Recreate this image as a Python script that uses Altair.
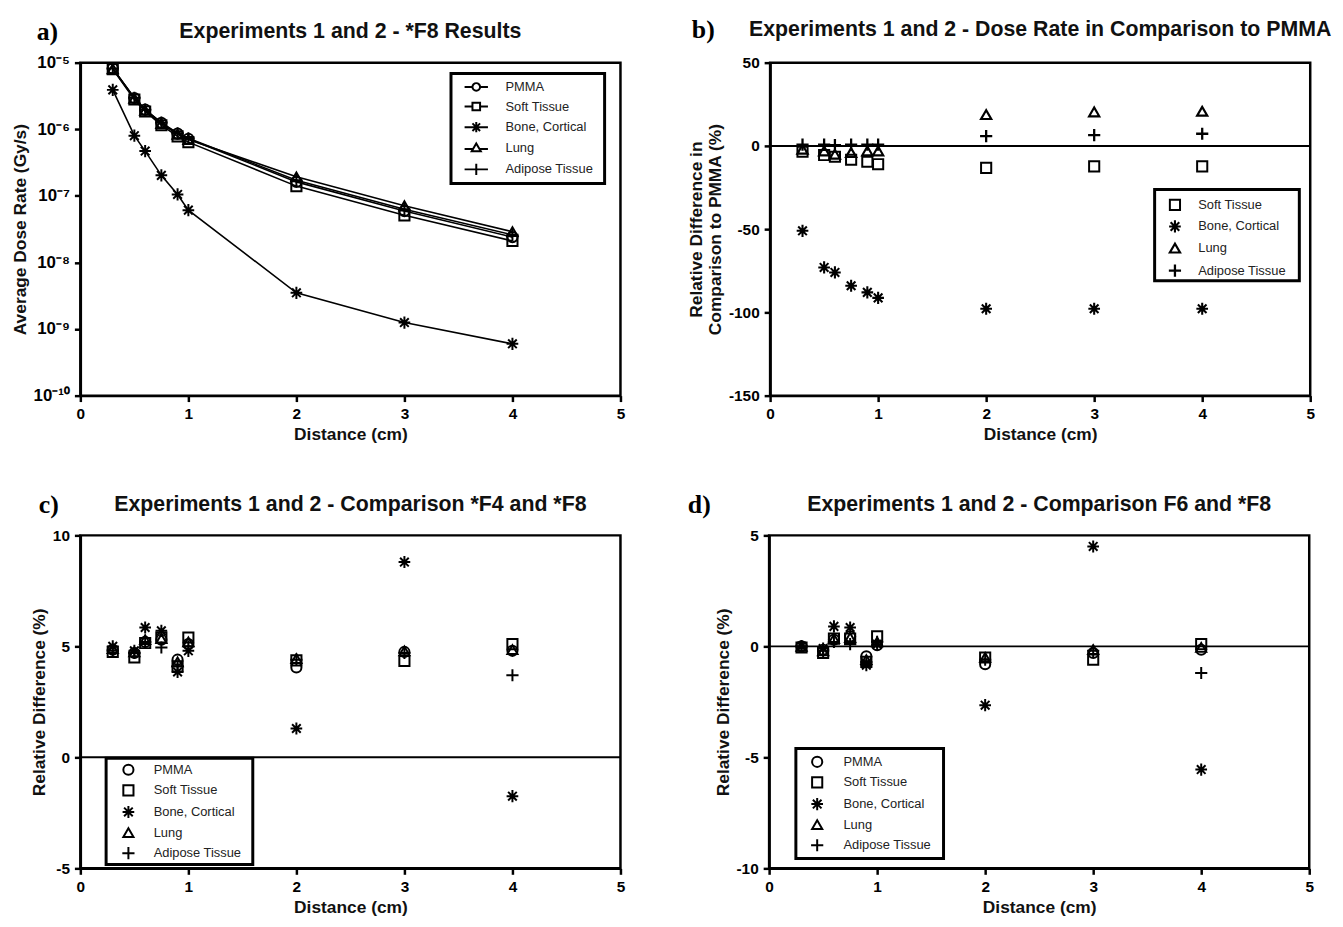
import altair as alt
import pandas as pd

# ---------------- data ----------------
distance = [0.3, 0.5, 0.6, 0.75, 0.9, 1.0, 2.0, 3.0, 4.0]
materials = ["PMMA", "Soft Tissue", "Bone, Cortical", "Lung", "Adipose Tissue"]

# a) *F8 average dose rate (Gy/s)
a_pmma = [8.2e-6, 2.95e-6, 1.97e-6, 1.25e-6, 8.6e-7, 7.2e-7, 1.62e-7, 5.9e-8, 2.4e-8]
a_soft = [8.0e-6, 2.8e-6, 1.85e-6, 1.15e-6, 7.8e-7, 6.4e-7, 1.40e-7, 5.1e-8, 2.1e-8]
a_bone = [3.9e-6, 8.0e-7, 4.7e-7, 2.03e-7, 1.05e-7, 6.1e-8, 3.5e-9, 1.25e-9, 6.0e-10]
a_lung = [8.1e-6, 2.9e-6, 1.92e-6, 1.22e-6, 8.4e-7, 7.0e-7, 1.93e-7, 7.1e-8, 2.9e-8]
a_adip = [8.2e-6, 2.96e-6, 1.97e-6, 1.26e-6, 8.7e-7, 7.3e-7, 1.72e-7, 6.3e-8, 2.6e-8]

# b) relative difference to PMMA (%)
b_soft = [-3.5, -5.5, -6.5, -8.3, -9.5, -11.0, -13.2, -12.3, -12.3]
b_bone = [-51, -73, -76, -84, -88, -91.3, -97.8, -97.8, -97.8]
b_lung = [-2, -3, -5, -4, -3, -3, 18.8, 20.4, 20.8]
b_adip = [0.8, 0.8, 0.5, 0.8, 0.8, 0.8, 5.9, 6.5, 7.3]

# c) comparison *F4 and *F8 (%)
c_pmma = [4.85, 4.7, 5.2, 5.3, 4.4, 5.1, 4.05, 4.75, 4.8]
c_soft = [4.75, 4.5, 5.15, 5.4, 4.1, 5.4, 4.37, 4.34, 5.1]
c_bone = [5.0, 4.8, 5.85, 5.7, 3.85, 4.8, 1.3, 8.8, -1.75]
c_lung = [4.9, 4.75, 5.3, 5.35, 4.3, 5.2, 4.45, 4.8, 4.85]
c_adip = [4.8, 4.7, 5.2, 4.95, 4.1, 5.0, 4.4, 4.7, 3.7]

# d) comparison F6 and *F8 (%)
d_pmma = [0.0, -0.15, 0.3, 0.45, -0.45, 0.05, -0.8, -0.3, -0.15]
d_soft = [-0.05, -0.3, 0.35, 0.35, -0.7, 0.45, -0.5, -0.6, 0.1]
d_bone = [0.0, -0.1, 0.9, 0.85, -0.85, 0.1, -2.65, 4.5, -5.55]
d_lung = [0.0, -0.2, 0.35, 0.4, -0.6, 0.2, -0.5, -0.15, -0.05]
d_adip = [0.0, -0.2, 0.2, 0.1, -0.7, 0.2, -0.6, -0.2, -1.2]

a_exponents = [-10, -9, -8, -7, -6, -5]
a_tick_labels = ["10⁻¹⁰", "10⁻⁹", "10⁻⁸", "10⁻⁷", "10⁻⁶", "10⁻⁵"]
x_ticks = [0, 1, 2, 3, 4, 5]


def long_df(series):
    rows = []
    for name, vals in series:
        for xv, yv in zip(distance, vals):
            rows.append({"Distance": xv, "Value": yv, "Material": name})
    return pd.DataFrame(rows)


df_a = long_df(zip(materials, [a_pmma, a_soft, a_bone, a_lung, a_adip]))
df_b = long_df(zip(materials[1:], [b_soft, b_bone, b_lung, b_adip]))
df_c = long_df(zip(materials, [c_pmma, c_soft, c_bone, c_lung, c_adip]))
df_d = long_df(zip(materials, [d_pmma, d_soft, d_bone, d_lung, d_adip]))
one = pd.DataFrame({"k": [0]})

# ---------------- styling ----------------
ASTERISK = "M0,-1.2L0,1.2M-1.15,0L1.15,0M-0.85,-0.85L0.85,0.85M-0.85,0.85L0.85,-0.85"
PLUS = "M0,-1.2L0,1.2M-1.2,0L1.2,0"
shape_map = {"PMMA": "circle", "Soft Tissue": "square", "Bone, Cortical": ASTERISK,
             "Lung": "triangle-up", "Adipose Tissue": PLUS}
width_map = {"PMMA": 2, "Soft Tissue": 2, "Bone, Cortical": 2.3,
             "Lung": 2, "Adipose Tissue": 3}
# legend symbols of panel a (marker with a line through it)
line_shape_map = {
    "PMMA": "M-0.75,0A0.75,0.75 0 1,1 0.75,0A0.75,0.75 0 1,1 -0.75,0M-2.3,0L-0.75,0M0.75,0L2.3,0",
    "Soft Tissue": "M-0.75,-0.75L0.75,-0.75L0.75,0.75L-0.75,0.75ZM-2.3,0L-0.75,0M0.75,0L2.3,0",
    "Bone, Cortical": "M-2.3,0L2.3,0M0,-1L0,1M-0.75,-0.75L0.75,0.75M-0.75,0.75L0.75,-0.75",
    "Lung": "M0,-0.85L0.9,0.7L-0.9,0.7ZM-2.3,0.25L-0.75,0.25M0.75,0.25L2.3,0.25",
    "Adipose Tissue": "M-2.3,0L2.3,0M0,-1.1L0,1.1",
}

W, H = 545, 336
FONT = "Liberation Sans"
MINUS_FIX = "replace(datum.label, '\u2212', '-')"

x_enc = alt.X("Distance:Q", title="Distance (cm)",
              scale=alt.Scale(domain=[0, 5], nice=False, zero=False),
              axis=alt.Axis(values=x_ticks, format="d", labelFlush=False))


def legend(box, pad, symoff, laboff, rowpad):
    return alt.Legend(title=None, orient="none", legendX=box[0], legendY=box[1],
                      padding=pad, rowPadding=rowpad,
                      labelFont=FONT, labelFontSize=13, labelColor="#222",
                      symbolSize=105, symbolStrokeWidth=2, symbolStrokeColor="black",
                      symbolOpacity=1, labelOffset=laboff, symbolOffset=symoff)


def points(mats, y_enc, lg):
    shapes = [shape_map[m] for m in mats]
    widths = [width_map[m] for m in mats]
    return alt.Chart().mark_point(filled=False, color="black", size=105, opacity=1).encode(
        x=x_enc,
        y=y_enc,
        shape=alt.Shape("Material:N", scale=alt.Scale(domain=mats, range=shapes), legend=lg),
        strokeWidth=alt.StrokeWidth("Material:N", scale=alt.Scale(domain=mats, range=widths),
                                    legend=None),
    )


def legend_box(box):
    return alt.Chart(one).mark_rect(fillOpacity=0, stroke="black", strokeWidth=3).encode(
        x=alt.value(box[0]), x2=alt.value(box[2]), y=alt.value(box[1]), y2=alt.value(box[3]))


def letter(txt, dx, dy):
    return alt.Chart(one).mark_text(font="Liberation Serif", fontSize=26, fontWeight="bold",
                                    align="left", baseline="middle", color="black").encode(
        x=alt.value(dx), y=alt.value(dy), text=alt.value(txt))


def zero_rule():
    return alt.Chart(one).mark_rule(color="black", strokeWidth=2).encode(y=alt.datum(0))


def title(t):
    return alt.TitleParams(t, font=FONT, fontSize=21.5, fontWeight="bold", color="#111",
                           offset=-24)


# panel a
label_expr = "[" + ",".join("'%s'" % s for s in a_tick_labels) + "][round(log(datum.value)/LN10) + 10]"
y_a = alt.Y("Value:Q", title="Average Dose Rate (Gy/s)",
            scale=alt.Scale(type="log", domain=[1e-10, 1e-5], nice=False),
            axis=alt.Axis(values=[10.0 ** e for e in a_exponents], labelExpr=label_expr,
                          labelFontSize=17))
lines_a = alt.Chart().mark_line(color="black", strokeWidth=1.6).encode(
    x=x_enc, y=y_a, detail="Material:N")
box_a = (374, 11, 529, 122)
legend_a = alt.Chart().mark_point(filled=False, color="black", size=105, opacity=0).encode(
    x=x_enc, y=y_a,
    shape=alt.Shape("Material:N",
                    scale=alt.Scale(domain=materials, range=[line_shape_map[m] for m in materials]),
                    legend=legend(box_a, 7, 12, 23, 2.8)),
)
panel_a = alt.layer(lines_a, points(materials, y_a, None), legend_a, legend_box(box_a),
                    letter("a)", -44, -31), data=df_a).resolve_scale(
    shape="independent").properties(
    width=W, height=H, title=title("Experiments 1 and 2 - *F8 Results"))

# panel b
y_b = alt.Y("Value:Q", title=["Relative Difference in", "Comparison to PMMA (%)"],
            scale=alt.Scale(domain=[-150, 50], nice=False),
            axis=alt.Axis(values=[-150, -100, -50, 0, 50], labelExpr=MINUS_FIX))
box_b = (388, 128, 534, 220)
panel_b = alt.layer(zero_rule(), points(materials[1:], y_b, legend(box_b, 9, 5, 17, 1.8)),
                    legend_box(box_b), letter("b)", -79, -33), data=df_b).properties(
    width=W, height=H, title=title("Experiments 1 and 2 - Dose Rate in Comparison to PMMA"))

# panel c
y_c = alt.Y("Value:Q", title="Relative Difference (%)",
            scale=alt.Scale(domain=[-5, 10], nice=False),
            axis=alt.Axis(values=[-5, 0, 5, 10], labelExpr=MINUS_FIX))
box_c = (26, 225, 174, 332)
panel_c = alt.layer(zero_rule(), points(materials, y_c, legend(box_c, 5, 11, 19, 1.8)),
                    legend_box(box_c), letter("c)", -42, -31), data=df_c).properties(
    width=W, height=H, title=title("Experiments 1 and 2 - Comparison *F4 and *F8"))

# panel d
y_d = alt.Y("Value:Q", title="Relative Difference (%)",
            scale=alt.Scale(domain=[-10, 5], nice=False),
            axis=alt.Axis(values=[-10, -5, 0, 5], labelExpr=MINUS_FIX))
box_d = (27, 215, 176, 326)
panel_d = alt.layer(zero_rule(), points(materials, y_d, legend(box_d, 7, 8, 20, 1.8)),
                    legend_box(box_d), letter("d)", -82, -31), data=df_d).properties(
    width=W, height=H, title=title("Experiments 1 and 2 - Comparison F6 and *F8"))

row1 = alt.hconcat(panel_a, panel_b, spacing=60).resolve_scale(shape="independent",
                                                                strokeWidth="independent")
row2 = alt.hconcat(panel_c, panel_d, spacing=60).resolve_scale(shape="independent",
                                                                strokeWidth="independent")

chart = alt.vconcat(row1, row2, spacing=45).resolve_scale(
    shape="independent", strokeWidth="independent").configure(
    padding={"left": 2, "top": 3, "right": 2, "bottom": 2}, background="white"
).configure_view(stroke="black", strokeWidth=2.5).configure_axis(
    domainColor="black", domainWidth=2.5, tickColor="black", tickWidth=2.5, tickSize=6,
    grid=False, labelFont=FONT, labelFontSize=15.5, labelFontWeight="bold", labelColor="black",
    titleFont=FONT, titleFontSize=17.5, titleFontWeight="bold", titleColor="#111", labelPadding=5,
)

chart.save("out.html", embed_options={"renderer": "svg", "actions": False})
